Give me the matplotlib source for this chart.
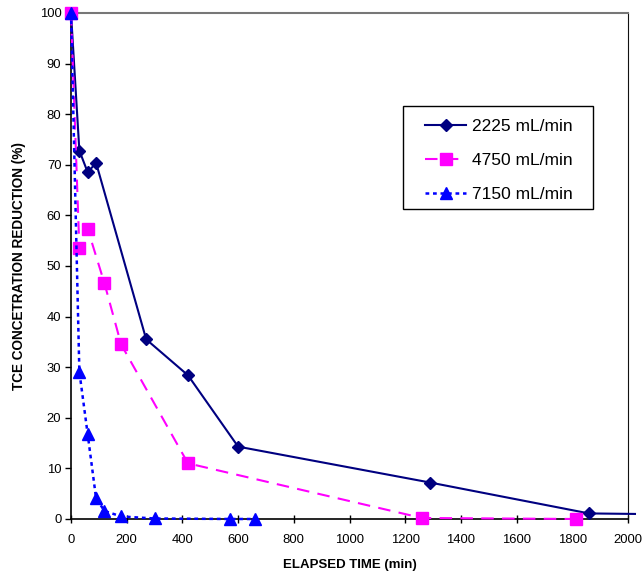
import matplotlib
matplotlib.use("Agg")
import matplotlib.pyplot as plt
from matplotlib.patches import Rectangle

plt.rcParams['font.family'] = ['Liberation Sans', 'DejaVu Sans']

t_2225 = [0, 30, 60, 90, 270, 420, 600, 1290, 1860, 2025]
r_2225 = [100, 72.8, 68.5, 70.4, 35.5, 28.4, 14.3, 7.2, 1.1, 1.0]

t_4750 = [0, 30, 60, 120, 180, 420, 1260, 1815]
r_4750 = [100, 53.5, 57.3, 46.6, 34.5, 11.0, 0.2, 0.0]

t_7150 = [0, 30, 60, 90, 120, 180, 300, 570, 660]
r_7150 = [100, 29.1, 16.7, 4.1, 1.6, 0.5, 0.1, 0.0, 0.0]

fig = plt.figure(figsize=(6.42, 5.75), dpi=100)
ax = fig.add_axes([0.1106, 0.0974, 0.8676, 0.88])

ax.plot(t_2225, r_2225, color='#000080', lw=1.5, marker='D', ms=6.5,
        markevery=list(range(len(t_2225) - 1)), label='2225 mL/min', clip_on=False, zorder=3)
ax.plot(t_4750, r_4750, color='#ff00ff', lw=1.5, ls=(0, (6, 4)), marker='s', ms=8,
        label='4750 mL/min', clip_on=False, zorder=4)
ax.plot(t_7150, r_7150, color='#0000ff', lw=1.8, ls=(0, (1.5, 1.5)), marker='^', ms=8,
        label='7150 mL/min', clip_on=False, zorder=5)

ax.set_xlim(0, 2000)
ax.set_ylim(0, 100)
ax.set_xticks(range(0, 2001, 200))
ax.set_yticks(range(0, 101, 10))
ax.tick_params(labelsize=9.4, width=1)
ax.tick_params(axis='x', direction='inout', length=6, pad=8)
ax.tick_params(axis='y', direction='out', length=4, pad=3)
ax.set_xlabel('ELAPSED TIME (min)', fontsize=9.5, fontweight='bold', labelpad=9)
ax.set_ylabel('TCE CONCETRATION REDUCTION (%)', fontsize=9.8, fontweight='bold', labelpad=10)

ax.spines['top'].set_color('#777777')
ax.spines['top'].set_linewidth(1.5)
ax.spines['right'].set_color('#111111')
for s in ['left', 'bottom']:
    ax.spines[s].set_color('black')
    ax.spines[s].set_linewidth(1.2)

# legend box drawn by hand so that the padding can match
bx0, by0, bx1, by1 = 0.596, 0.613, 0.937, 0.817
ax.add_patch(Rectangle((bx0, by0), bx1 - bx0, by1 - by0, transform=ax.transAxes,
                       facecolor='white', edgecolor='black', lw=1.0, zorder=6))
leg = ax.legend(loc='center', bbox_to_anchor=((bx0 + bx1) / 2 + 0.001, (by0 + by1) / 2 - 0.007),
                fontsize=12.5, frameon=False, borderpad=0, labelspacing=1.08,
                handlelength=2.4, handletextpad=0.3, borderaxespad=0)
leg.set_zorder(7)

fig.savefig('out.png', dpi=100)
